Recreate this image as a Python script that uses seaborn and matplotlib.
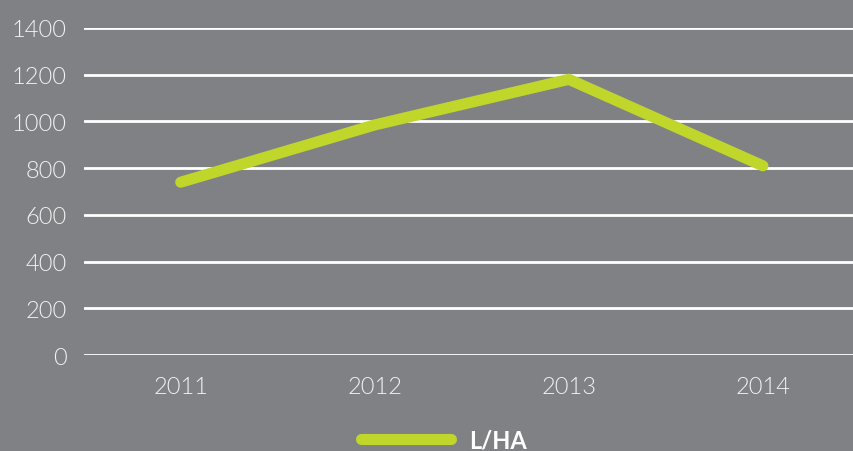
import pandas as pd
import matplotlib.pyplot as plt
import seaborn as sns

years = ["2011", "2012", "2013", "2014"]
l_ha = [740, 985, 1180, 810]
y_ticks = [0, 200, 400, 600, 800, 1000, 1200, 1400]

BG = "#808184"
LIME = "#c0d62a"

df = pd.DataFrame({"year": years, "L/HA": l_ha})

sns.set_theme(style="white")
plt.rcParams["font.family"] = ["Lato", "DejaVu Sans"]

fig, ax = plt.subplots(figsize=(8.54, 4.52), dpi=100)
fig.patch.set_facecolor(BG)
ax.set_facecolor(BG)

sns.lineplot(data=df, x="year", y="L/HA", ax=ax, color=LIME, linewidth=8,
             solid_capstyle="round", solid_joinstyle="miter", label="L/HA", legend=False)

ax.set_xlim(-0.5, 3.5)
ax.set_ylim(0, 1400)
ax.set_yticks(y_ticks)
ax.yaxis.grid(True, color="white", linewidth=2)
ax.set_axisbelow(True)
for s in ax.spines.values():
    s.set_visible(False)
ax.tick_params(axis="both", length=0, labelsize=17, labelcolor="#f2f2f2")
ax.tick_params(axis="y", pad=12)
ax.tick_params(axis="x", pad=15)
for lbl in ax.get_xticklabels() + ax.get_yticklabels():
    lbl.set_fontweight(300)
ax.set_xlabel("")
ax.set_ylabel("")

leg = fig.legend(*ax.get_legend_handles_labels(), loc="center", bbox_to_anchor=(0.52, 0.025),
                 frameon=False, handlelength=3.8, handletextpad=0.8,
                 prop={"size": 17, "weight": "bold"})
for t in leg.get_texts():
    t.set_color("white")

plt.subplots_adjust(left=0.098, right=1.007, top=0.936, bottom=0.212)
plt.savefig("out.png", facecolor=BG)
plt.close()
